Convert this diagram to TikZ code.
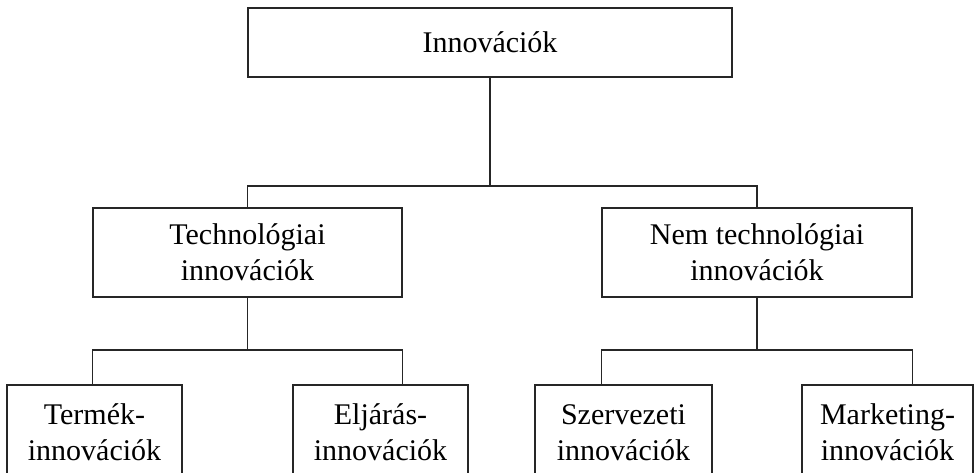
\documentclass[tikz,border=0pt]{standalone}
\usepackage{fontspec}
\setmainfont{Liberation Serif}
\begin{document}
\begin{tikzpicture}[x=0.75pt,y=0.75pt,
	innobox/.style={draw=black!85,line width=1.1pt,align=center,inner sep=0pt,
	  font=\fontsize{22.5}{27}\selectfont},
	conn/.style={draw=black!85,line width=1.1pt}]
	\useasboundingbox (0,0) rectangle (976,472);
	\clip (0,0) rectangle (976,472);
	% top
	\node[innobox,minimum width=363pt,minimum height=51.75pt]
	  (inno) at (490,429.5) {Innovációk};
	% middle
	\node[innobox,minimum width=231.75pt,minimum height=66.75pt]
	  (tech) at (247.5,219.5) {Technológiai\\innovációk};
	\node[innobox,minimum width=232.5pt,minimum height=66.75pt]
	  (nemtech) at (757,219.5) {Nem technológiai\\innovációk};
	% bottom, cut by the page edge
	\node[innobox,minimum width=131.25pt,minimum height=71.25pt]
	  (termek) at (94.5,39.5) {Termék-\\innovációk};
	\node[innobox,minimum width=131.25pt,minimum height=71.25pt]
	  (eljaras) at (380.5,39.5) {Eljárás-\\innovációk};
	\node[innobox,minimum width=132.75pt,minimum height=71.25pt]
	  (szerv) at (623.5,39.5) {Szervezeti\\innovációk};
	\node[innobox,minimum width=128.25pt,minimum height=71.25pt]
	  (mark) at (887.5,39.5) {Marketing-\\innovációk};
	% connectors
	\coordinate (j1) at (490,286);
	\coordinate (j2) at (247.5,122);
	\coordinate (j3) at (757,122);
	\draw[conn] (inno.south) -- (j1);
	\draw[conn] (tech.north) |- (j1) -| (nemtech.north);
	\draw[conn] (tech.south) -- (j2);
	\draw[conn] (termek.north -| tech.west) |- (j2) -| (eljaras.north -| tech.east);
	\draw[conn] (nemtech.south) -- (j3);
	\draw[conn] (szerv.north -| nemtech.west) |- (j3) -| (mark.north -| nemtech.east);
\end{tikzpicture}
\end{document}
